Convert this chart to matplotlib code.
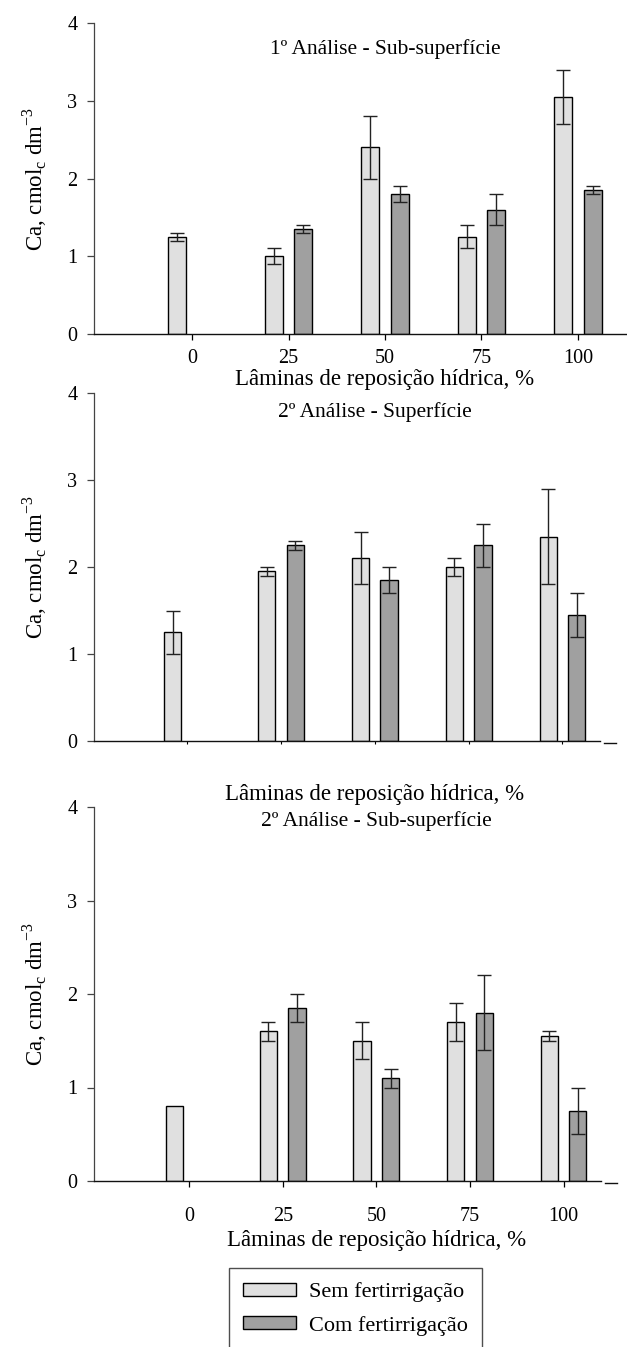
import matplotlib
matplotlib.use("Agg")
import matplotlib.pyplot as plt
from matplotlib.patches import Patch
from matplotlib.transforms import blended_transform_factory

plt.rcParams['font.family'] = ['Liberation Serif', 'DejaVu Serif']
plt.rcParams['mathtext.fontset'] = 'custom'
plt.rcParams['mathtext.rm'] = 'Liberation Serif'

laminas = [0, 25, 50, 75, 100]
tick_labels = ['0', '25', '50', '75', '100']

titles = ['1º Análise - Sub-superfície',
          '2º Análise - Superfície',
          '2º Análise - Sub-superfície']

# Sem fertirrigação (light) / Com fertirrigação (dark), with error half-widths
sem_vals = [[1.25, 1.00, 2.40, 1.25, 3.05],
            [1.25, 1.95, 2.10, 2.00, 2.35],
            [0.80, 1.60, 1.50, 1.70, 1.55]]
sem_err = [[0.05, 0.10, 0.40, 0.15, 0.35],
           [0.25, 0.05, 0.30, 0.10, 0.55],
           [None, 0.10, 0.20, 0.20, 0.05]]
com_vals = [[None, 1.35, 1.80, 1.60, 1.85],
            [None, 2.25, 1.85, 2.25, 1.45],
            [None, 1.85, 1.10, 1.80, 0.75]]
com_err = [[None, 0.05, 0.10, 0.20, 0.05],
           [None, 0.05, 0.15, 0.25, 0.25],
           [None, 0.15, 0.10, 0.40, 0.25]]

light = '#e0e0e0'
dark = '#a0a0a0'
W, H = 627, 1347

fig = plt.figure(figsize=(W / 100, H / 100), dpi=100)

# axes boxes in pixels: left, bottom(y of zero line), right, top, xlim
boxes = [(94, 334, 627, 23, (-25.4, 112.7)),
         (94, 741, 600, 393, (-24.8, 110.0)),
         (94, 1181, 601, 807, (-25.4, 110.0))]
title_y = [3.66, 3.78, 3.85]
xlabel_y = [-0.145, -0.155, -0.158]
show_ticklabels = [True, False, True]
tick_pad = [7, 0, 15]

bw = 4.6
off = 3.8

for i, (l, b, r, t, xl) in enumerate(boxes):
    ax = fig.add_axes([l / W, 1 - b / H, (r - l) / W, (b - t) / H])
    for s in ['top', 'right']:
        ax.spines[s].set_visible(False)
    ax.spines['left'].set_color('#444444')
    ax.spines['bottom'].set_color('#111111')
    ax.spines['left'].set_linewidth(0.9)
    ax.spines['bottom'].set_linewidth(1.0)

    xs_s = [x - off for x in laminas]
    xs_c = [x + off for x in laminas]
    ax.bar(xs_s, sem_vals[i], width=bw, color=light, edgecolor='black',
           linewidth=1.0, zorder=2)
    pc = [(x, v) for x, v in zip(xs_c, com_vals[i]) if v is not None]
    ax.bar([p[0] for p in pc], [p[1] for p in pc], width=bw, color=dark,
           edgecolor='black', linewidth=1.0, zorder=2)

    for xs, vals, errs in [(xs_s, sem_vals[i], sem_err[i]),
                           (xs_c, com_vals[i], com_err[i])]:
        pts = [(x, v, e) for x, v, e in zip(xs, vals, errs)
               if v is not None and e is not None]
        ax.errorbar([p[0] for p in pts], [p[1] for p in pts],
                    yerr=[p[2] for p in pts], fmt='none', ecolor='#222222',
                    elinewidth=1.0, capsize=5, capthick=1.0, zorder=3)

    ax.set_xlim(*xl)
    ax.set_ylim(0, 4)
    ax.set_yticks([0, 1, 2, 3, 4])
    ax.tick_params(axis='y', direction='out', length=5, width=0.9,
                   labelsize=14.5, pad=7, color='#444444')
    ax.set_xticks(laminas)
    if show_ticklabels[i]:
        ax.set_xticklabels(tick_labels)
        ax.tick_params(axis='x', direction='out', length=4, width=0.9,
                       labelsize=14.5, pad=tick_pad[i])
    else:
        ax.set_xticklabels([])
        ax.tick_params(axis='x', direction='out', length=2.5, width=0.8)

    ax.set_ylabel(r'Ca, cmol$_\mathregular{c}$ dm$^\mathregular{-3}$',
                  fontsize=16.5, labelpad=13)

    ax.text(50, title_y[i], titles[i], ha='center', va='center', fontsize=15.5)
    trans = blended_transform_factory(ax.transData, ax.transAxes)
    ax.text(50, xlabel_y[i], 'Lâminas de reposição hídrica, %', ha='center',
            va='center', fontsize=16.5, transform=trans)

    if i > 0:
        ax.plot([1.008, 1.032], [-0.006, -0.006], color='#111111', lw=1.0,
                transform=ax.transAxes, clip_on=False)

handles = [Patch(facecolor=light, edgecolor='black', linewidth=1.0),
           Patch(facecolor=dark, edgecolor='black', linewidth=1.0)]
leg = fig.legend(handles, ['Sem fertirrigação', 'Com fertirrigação'],
                 loc='upper left', bbox_to_anchor=(229 / W, 1 - 1268 / H),
                 borderaxespad=0, fontsize=16, frameon=True, fancybox=False,
                 handlelength=2.35, handleheight=0.55, handletextpad=0.6,
                 labelspacing=0.6, borderpad=0.65)
leg.get_frame().set_edgecolor('#222222')
leg.get_frame().set_linewidth(1.0)

fig.savefig('out.png', dpi=100)
